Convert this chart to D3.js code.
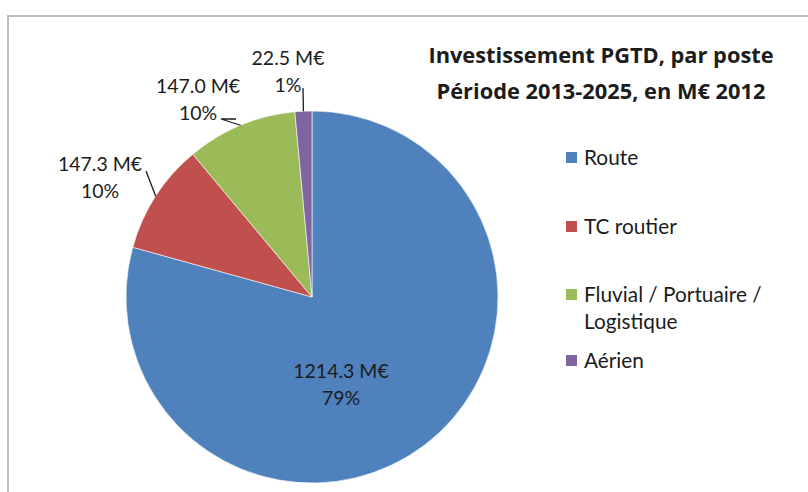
<!DOCTYPE html>
<html>
<head>
<meta charset="utf-8">
<script src="https://cdn.jsdelivr.net/npm/d3@7"></script>
<style>
  html, body { margin: 0; padding: 0; background: #fff; }
  svg { display: block; }
  text { font-family: Lato, "Open Sans", "DejaVu Sans", sans-serif; fill: #1c1c1c; }
</style>
</head>
<body>
<svg id="chart" width="808" height="492"></svg>
<script>
// Investment per item, 2013-2025, M€ 2012
const categories = ["Route", "TC routier", "Fluvial / Portuaire / Logistique", "Aérien"];
const values = [1214.3, 147.3, 147.0, 22.5];
const legendLines = [["Route"], ["TC routier"], ["Fluvial / Portuaire /", "Logistique"], ["Aérien"]];
const colors = ["#4F81BD", "#C0504D", "#9BBB59", "#8064A2"];
const titleLines = ["Investissement PGTD, par poste", "Période 2013-2025, en M€ 2012"];

const W = 808, H = 492;
const cx = 312, cy = 297, R = 186;

const svg = d3.select("#chart");

// chart frame (right and bottom edges run past the page)
svg.append("rect")
  .attr("x", 8).attr("y", 16).attr("width", 830).attr("height", 520)
  .attr("fill", "none").attr("stroke", "#bcbcbc").attr("stroke-width", 2);

const color = d3.scaleOrdinal().domain(categories).range(colors);
const pie = d3.pie().sort(null).value(d => d.value);
const arcs = pie(categories.map((c, i) => ({ name: c, value: values[i] })));
const arc = d3.arc().innerRadius(0).outerRadius(R);
const total = d3.sum(values);
const fmtPct = d3.format(".0%");
const fmtVal = d3.format(".1f");

const g = svg.append("g").attr("transform", `translate(${cx},${cy})`);
g.selectAll("path.slice").data(arcs).join("path")
  .attr("class", "slice")
  .attr("d", arc)
  .attr("fill", d => color(d.data.name))
  .attr("stroke", "#ffffff").attr("stroke-width", 0.6);

// data label placement (label centre relative to pie centre, plus leader bend)
const labelLayout = [
  { dx: 29,   dy: 87,   leader: null },
  { dx: -212, dy: -120, leader: [[-166, -126]] },
  { dx: -114, dy: -198, leader: [[-76, -178], [-91, -178]] },
  { dx: -24,  dy: -226, leader: [[-9, -209]] }
];
const lineH = 27;

const labels = g.selectAll("g.lbl").data(arcs).join("g").attr("class", "lbl");
labels.each(function (d, i) {
  const L = labelLayout[i];
  const sel = d3.select(this);
  if (L.leader) {
    const a = (d.startAngle + d.endAngle) / 2;
    const edge = [Math.sin(a) * R, -Math.cos(a) * R];
    const pts = L.leader.concat([edge]);
    sel.append("path")
      .attr("d", d3.line()(pts))
      .attr("fill", "none").attr("stroke", "#1c1c1c").attr("stroke-width", 1.3);
  }
  const t = sel.append("text")
    .attr("text-anchor", "middle")
    .attr("font-size", 19.5);
  t.append("tspan").attr("x", L.dx).attr("y", L.dy - lineH / 2 + 7)
    .text(fmtVal(d.data.value) + " M€");
  t.append("tspan").attr("x", L.dx).attr("y", L.dy + lineH / 2 + 7)
    .text(fmtPct(d.data.value / total));
});

// title
const title = svg.append("text")
  .attr("text-anchor", "middle")
  .attr("font-weight", "bold")
  .attr("font-size", 21.8)
  .style("font-family", "'Open Sans', Lato, sans-serif")
  .attr("fill", "#111");
titleLines.forEach((s, i) => {
  title.append("tspan").attr("x", 601).attr("y", 63 + i * 36).text(s);
});

// legend
const legendY = [158, 227, 295, 361];
const lg = svg.append("g");
categories.forEach((c, i) => {
  const y = legendY[i];
  lg.append("rect")
    .attr("x", 566).attr("y", y - 6).attr("width", 11).attr("height", 11)
    .attr("fill", colors[i]);
  const t = lg.append("text").attr("font-size", 20.8);
  legendLines[i].forEach((s, k) => {
    t.append("tspan").attr("x", 584).attr("y", y + 7 + k * 27).text(s);
  });
});
</script>
</body>
</html>
